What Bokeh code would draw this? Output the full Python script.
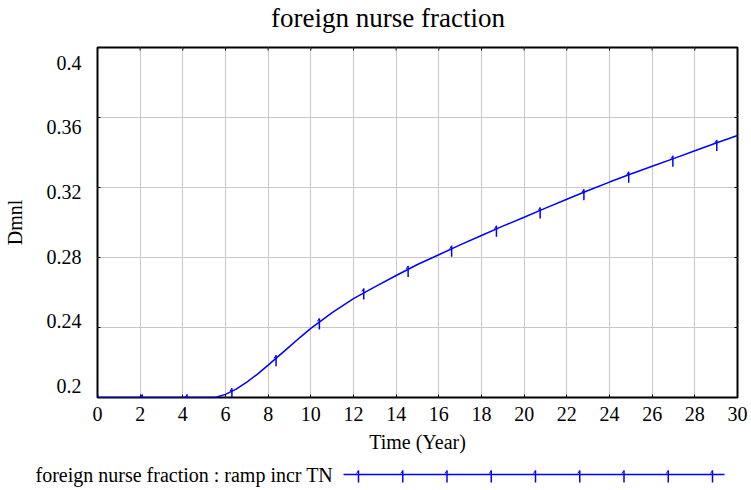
import numpy as np
from bokeh.plotting import figure
from bokeh.models import Range1d, FixedTicker
from bokeh.layouts import column
from bokeh.core.properties import value
from bokeh.embed import file_html
from bokeh.resources import INLINE

# ---- data ----
time = [0, 1, 2, 3, 4, 5, 5.5, 6, 6.5, 7, 7.5, 8, 8.5, 9, 9.5, 10, 11, 12, 13, 14,
        15, 16, 17, 18, 19, 20, 21, 22, 23, 24, 25, 26, 27, 28, 29, 30]
fraction = [0.2, 0.2, 0.2, 0.2, 0.2, 0.2, 0.2, 0.2018, 0.2048, 0.2088, 0.2134, 0.2185,
            0.2238, 0.2291, 0.2344, 0.2395, 0.2485, 0.2565, 0.2632, 0.2697,
            0.2760, 0.2816, 0.2872, 0.2926, 0.2979, 0.3030, 0.3082, 0.3133, 0.3183,
            0.3231, 0.3277, 0.3321, 0.3365, 0.3410, 0.3454, 0.3497]
marker_time = [0, 2.1, 4.2, 6.3, 8.37, 10.4, 12.48, 14.56, 16.6, 18.7, 20.75, 22.8,
               24.9, 26.97, 29.03]
marker_value = [0.2, 0.2, 0.2, 0.2036, 0.2224, 0.2435, 0.2606, 0.2735, 0.285, 0.2964,
                0.3069, 0.3173, 0.3273, 0.3364, 0.3455]
x_ticks = [0, 2, 4, 6, 8, 10, 12, 14, 16, 18, 20, 22, 24, 26, 28, 30]
y_ticks = [0.2, 0.24, 0.28, 0.32, 0.36, 0.4]
y_tick_labels = ["0.2", "0.24", "0.28", "0.32", "0.36", "0.4"]
title_text = "foreign nurse fraction"
x_label = "Time (Year)"
y_label = "Dmnl"
legend_text = "foreign nurse fraction : ramp incr TN"

BLUE = "#0000FF"
FONT = "Liberation Serif"
GRID = "#c8c8c8"
W = 751

Y0, Y1 = 0.2, 0.4
X0, X1 = 0, 30
FRAME_H = 350
px_y = (Y1 - Y0) / FRAME_H
px_x = (X1 - X0) / 640.0

# ---- title strip ----
tf = figure(width=W, height=45, x_range=Range1d(0, W), y_range=Range1d(0, 45),
            output_backend="svg", toolbar_location=None, min_border=0,
            x_axis_type=None, y_axis_type=None)
tf.outline_line_color = None
tf.grid.visible = False
tf.text(x=[387.5], y=[28], text=[title_text], text_font=value(FONT), text_font_size="27px",
        text_align="center", text_baseline="alphabetic", text_color="black")

# ---- main plot ----
p = figure(width=W, height=417, x_range=Range1d(X0, X1), y_range=Range1d(Y0, Y1),
           output_backend="svg", toolbar_location=None,
           min_border_left=97, min_border_right=14, min_border_top=2, min_border_bottom=65)
p.outline_line_color = "black"
p.outline_line_width = 2

for ax in (p.xaxis[0], p.yaxis[0]):
    ax.axis_line_color = None
    ax.minor_tick_line_color = None
    ax.major_label_text_font = FONT
    ax.major_label_text_font_size = "20px"
    ax.major_label_text_color = "black"
    ax.axis_label_text_font = FONT
    ax.axis_label_text_font_size = "20px"
    ax.axis_label_text_font_style = "normal"
    ax.axis_label_text_color = "black"

p.xaxis.ticker = FixedTicker(ticks=x_ticks)
p.xaxis.major_tick_in = 3
p.xaxis.major_tick_out = 0
p.xaxis.axis_label = x_label
p.xaxis.major_label_standoff = 9
p.xaxis.axis_label_standoff = 7

# Vensim spreads the value labels a little inside the plot height
lab_lo, lab_hi = 11.5, 334.8  # px above the bottom edge for first / last label
label_pos = [round(Y0 + (lab_lo + (v - Y0) / (Y1 - Y0) * (lab_hi - lab_lo)) * px_y, 6)
             for v in y_ticks]
p.yaxis.ticker = FixedTicker(ticks=label_pos)
p.yaxis.major_label_overrides = {pos: s for pos, s in zip(label_pos, y_tick_labels)}
p.yaxis.major_tick_in = 0
p.yaxis.major_tick_out = 0
p.yaxis.axis_label = y_label
p.yaxis.major_label_standoff = 16
p.yaxis.axis_label_standoff = 18

p.xgrid.ticker = FixedTicker(ticks=x_ticks)
p.ygrid.ticker = FixedTicker(ticks=y_ticks)
p.grid.grid_line_color = GRID
p.grid.grid_line_width = 1

# small inner ticks on the other edges
xt = np.array(x_ticks, dtype=float)
yt = np.array(y_ticks, dtype=float)
p.segment(x0=xt, y0=Y1, x1=xt, y1=Y1 - 3 * px_y, line_color="black", line_width=1)
p.segment(x0=X0, y0=yt, x1=X0 + 3 * px_x, y1=yt, line_color="black", line_width=1)
p.segment(x0=X1, y0=yt, x1=X1 - 3 * px_x, y1=yt, line_color="black", line_width=1)

p.line(time, fraction, line_color=BLUE, line_width=1.5)

mt = np.array(marker_time)
mv = np.array(marker_value)
p.segment(x0=mt, y0=mv + 3 * px_y, x1=mt, y1=mv - 8 * px_y, line_color=BLUE, line_width=1.5)
p.segment(x0=mt, y0=mv + 3 * px_y, x1=mt - 2 * px_x, y1=mv, line_color=BLUE, line_width=1)

# ---- legend strip ----
leg = figure(width=W, height=28, x_range=Range1d(0, W), y_range=Range1d(0, 28),
             output_backend="svg", toolbar_location=None, min_border=0,
             x_axis_type=None, y_axis_type=None)
leg.outline_line_color = None
leg.grid.visible = False
leg.text(x=[35], y=[15.5], text=[legend_text], text_font=value(FONT), text_font_size="20px",
         text_baseline="alphabetic", text_color="black")
leg.line([343, 724], [16, 16], line_color=BLUE, line_width=1.5)
lx = np.linspace(358, 712, 9)
leg.segment(x0=lx, y0=20, x1=lx, y1=8, line_color=BLUE, line_width=1.5)
leg.segment(x0=lx, y0=20, x1=lx - 2, y1=17, line_color=BLUE, line_width=1)

for f in (tf, p, leg):
    f.frame_align = False

layout = column(tf, p, leg)
open("out.html", "w").write(file_html(layout, INLINE))
